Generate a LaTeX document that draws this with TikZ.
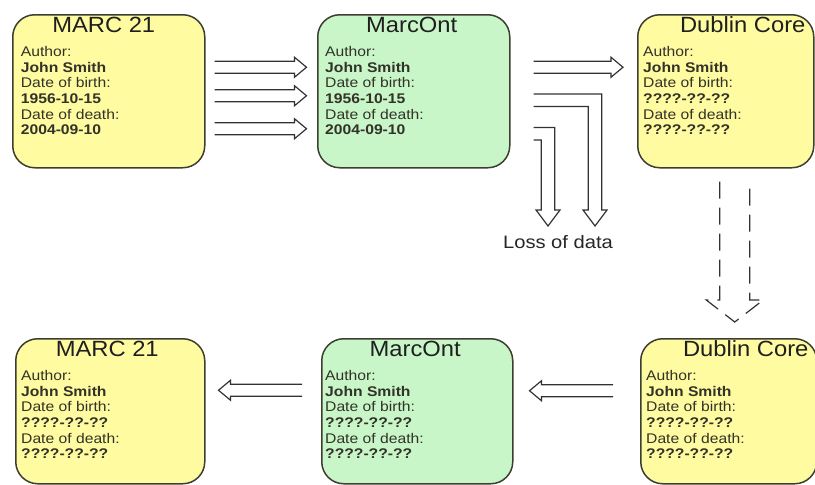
\documentclass[tikz,border=0pt]{standalone}
\usepackage{fontspec}
\setmainfont{Liberation Sans}
\newfontfamily\bodyfont{Liberation Sans}[FakeStretch=1.12]
\newfontfamily\titlefont{Liberation Sans}[FakeStretch=1.08]
\newfontfamily\lossfont{Liberation Sans}[FakeStretch=1.12]
\usetikzlibrary{calc}
\definecolor{boxyellow}{RGB}{255,251,160}
\definecolor{boxgreen}{RGB}{200,246,200}
\definecolor{boxline}{RGB}{62,62,48}
\definecolor{arrline}{RGB}{50,50,50}
\definecolor{bodytext}{RGB}{50,50,40}
\tikzset{
  card/.style={draw=boxline, line width=1.5pt, rounded corners=22pt,
    minimum width=192pt, minimum height=153pt, anchor=north west, inner sep=0pt},
  ycard/.style={card, fill=boxyellow},
  gcard/.style={card, fill=boxgreen},
  cardtitle/.style={anchor=base, inner sep=0pt, text=black!88,
    font={\titlefont\fontsize{22}{24}\selectfont}},
  cardbody/.style={anchor=north west, inner sep=0pt, align=left, text=bodytext,
    font={\bodyfont\fontsize{14}{15.7}\selectfont}},
  arr/.style={draw=arrline, line width=1.2pt, line join=miter},
  hollowh/.style={arr, to path={let \p1=(\tikztostart), \p2=(\tikztotarget),
      \n1={sign(\x2-\x1)} in
      (\x1,\y1+6pt) -- (\x2-\n1*12pt,\y1+6pt) -- (\x2-\n1*12pt,\y1+10pt) -- (\x2,\y1)
      -- (\x2-\n1*12pt,\y1-10pt) -- (\x2-\n1*12pt,\y1-6pt) -- (\x1,\y1-6pt)}},
  hollowbend/.style={arr, to path={let \p1=(\tikztostart), \p2=(\tikztotarget) in
      (\x1,\y1+6.3pt) -- (\x2+6.8pt,\y1+6.3pt) -- (\x2+6.8pt,\y2+16pt) -- (\x2+12pt,\y2+16pt)
      -- (\x2,\y2) -- (\x2-12pt,\y2+16pt) -- (\x2-6.8pt,\y2+16pt) -- (\x2-6.8pt,\y1-6.3pt)
      -- (\x1,\y1-6.3pt)}},
  hollowdown/.style={arr, dash pattern=on 17pt off 9pt, to path={let \p1=(\tikztostart), \p2=(\tikztotarget) in
      (\x1-15pt,\y1) -- (\x1-15pt,\y2+22pt) -- (\x1-28.5pt,\y2+22pt) -- (\x1,\y2)
      -- (\x1+28.5pt,\y2+22pt) -- (\x1+15pt,\y2+22pt) -- (\x1+15pt,\y1)}},
  losslabel/.style={inner sep=0pt, text=black!85, font={\lossfont\fontsize{18}{22}\selectfont}}
}
\begin{document}
\begin{tikzpicture}[x=1pt, y=-1pt]
\useasboundingbox (0,0) rectangle (815,485);
% top row
\node[ycard] (m1) at (12,14) {};
\node[gcard] (m2) at (317,14) {};
\node[ycard, minimum width=176pt] (m3) at (637,14) {};
% bottom row
\node[ycard, minimum width=189pt, minimum height=145pt] (m4) at (15,338) {};
\node[gcard, minimum width=191pt, minimum height=145pt] (m5) at (321,338) {};
\node[ycard, minimum width=176pt, minimum height=145pt] (m6) at (640,338) {};
% titles
\node[cardtitle] (m1t) at ($(m1.north)+(-5,18.7)$) {MARC 21};
\node[cardtitle] (m2t) at ($(m2.north)+(-2,18.7)$) {MarcOnt};
\node[cardtitle] (m3t) at ($(m3.north)+(17,18.7)$) {Dublin Core};
\node[cardtitle] (m4t) at ($(m4.north)+(-3,18.7)$) {MARC 21};
\node[cardtitle] (m5t) at ($(m5.north)+(-2,18.7)$) {MarcOnt};
\node[cardtitle] (m6t) at ($(m6.north)+(17,18.7)$) {Dublin Core};
% bodies
\node[cardbody] (m1b) at ($(m1.north west)+(8.7,32)$) {Author:\\\textbf{John Smith}\\Date of birth:\\\textbf{1956-10-15}\\Date of death:\\\textbf{2004-09-10}};
\node[cardbody] (m2b) at ($(m2.north west)+(8,32)$) {Author:\\\textbf{John Smith}\\Date of birth:\\\textbf{1956-10-15}\\Date of death:\\\textbf{2004-09-10}};
\node[cardbody] (m3b) at ($(m3.north west)+(6,32)$) {Author:\\\textbf{John Smith}\\Date of birth:\\\textbf{????-??-??}\\Date of death:\\\textbf{????-??-??}};
\node[cardbody] (m4b) at ($(m4.north west)+(6,32)$) {Author:\\\textbf{John Smith}\\Date of birth:\\\textbf{????-??-??}\\Date of death:\\\textbf{????-??-??}};
\node[cardbody] (m5b) at ($(m5.north west)+(4,32)$) {Author:\\\textbf{John Smith}\\Date of birth:\\\textbf{????-??-??}\\Date of death:\\\textbf{????-??-??}};
\node[cardbody] (m6b) at ($(m6.north west)+(6,32)$) {Author:\\\textbf{John Smith}\\Date of birth:\\\textbf{????-??-??}\\Date of death:\\\textbf{????-??-??}};
% MARC 21 -> MarcOnt
\draw[hollowh] ($(m1.east)+(9,-24)$) to ($(m2.west)+(-10.5,-24)$);
\draw[hollowh] ($(m1.east)+(9,4.5)$) to ($(m2.west)+(-10.5,4.5)$);
\draw[hollowh] ($(m1.east)+(9,37.5)$) to ($(m2.west)+(-10.5,37.5)$);
% MarcOnt -> Dublin Core
\draw[hollowh] ($(m2.east)+(23,-24)$) to ($(m3.west)+(-14,-24)$);
% loss of data
\node[losslabel] (loss) at (558,242) {Loss of data};
\coordinate (lossA) at (595,226);
\coordinate (lossB) at (548,226);
\draw[hollowbend] ($(m2.east)+(23,9)$) to (lossA);
\draw[hollowbend] ($(m2.east)+(23,42.5)$) to (lossB);
% Dublin Core down
\draw[hollowdown] ($(m3.south)+(9,13)$) to ($(m6.north)+(6.5,-16)$);
% bottom row leftwards
\draw[hollowh] ($(m6.west)+(-27,-20.5)$) to ($(m5.east)+(16,-20.5)$);
\draw[hollowh] ($(m5.west)+(-19,-21)$) to ($(m4.east)+(13,-20)$);
\end{tikzpicture}
\end{document}
